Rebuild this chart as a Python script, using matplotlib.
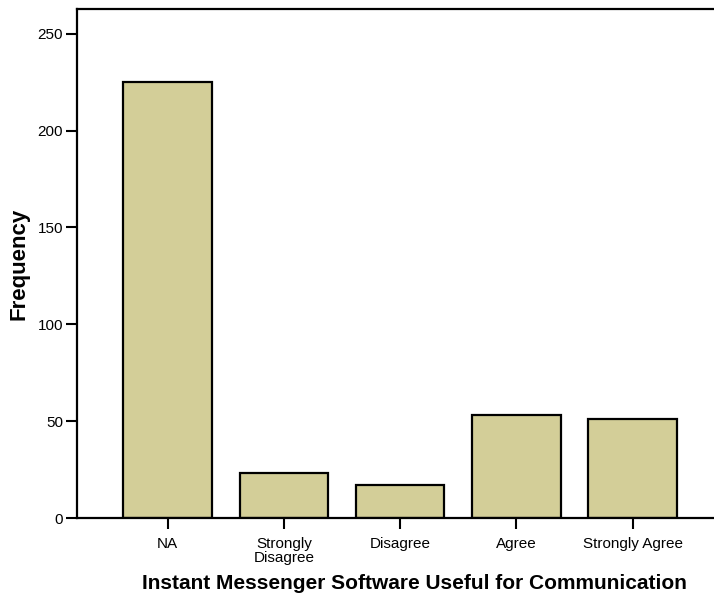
import matplotlib.pyplot as plt
import numpy as np

plt.rcParams['font.family'] = ['Liberation Sans', 'DejaVu Sans']

categories = ["NA", "Strongly\nDisagree", "Disagree", "Agree", "Strongly Agree"]
counts = [225, 23, 17, 53, 51]
y_ticks = [0, 50, 100, 150, 200, 250]

fig = plt.figure(figsize=(7.14, 6.01), dpi=100)
ax = fig.add_axes([77 / 714, 83 / 601, 1 - 77 / 714, (518 - 9) / 601])

x = np.arange(len(categories))
ax.bar(x, counts, width=0.76, color="#d3ce98", edgecolor="black", linewidth=1.6)

ax.set_xlim(-0.78, 4.70)
ax.set_ylim(0, 262.8)
ax.set_xticks(x)
ax.set_xticklabels(categories, fontsize=11, linespacing=1.0)
ax.set_yticks(y_ticks)
ax.tick_params(axis='y', labelsize=11, length=8, width=1.5, direction='out', pad=2)
ax.tick_params(axis='x', length=8, width=1.5, direction='out', pad=6)

for s in ["left", "top", "bottom"]:
    ax.spines[s].set_linewidth(1.6)
ax.spines["right"].set_visible(False)

ax.set_ylabel("Frequency", fontsize=16, fontweight="bold", labelpad=6)
ax.set_xlabel("Instant Messenger Software Useful for Communication", fontsize=15, fontweight="bold", labelpad=6)
ax.xaxis.set_label_coords(0.529, -0.11)

fig.savefig("out.png", dpi=100)
